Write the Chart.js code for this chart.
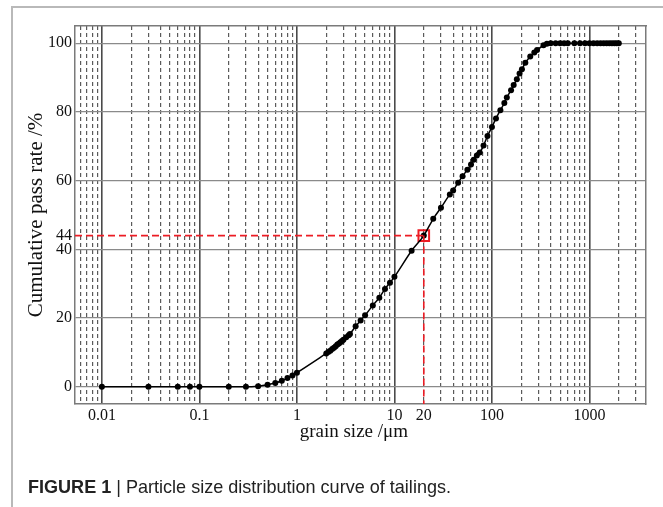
<!DOCTYPE html>
<html>
<head>
<meta charset="utf-8">
<script src="https://cdn.jsdelivr.net/npm/chart.js@4.4.1/dist/chart.umd.min.js"></script>
<style>
  html, body { margin: 0; padding: 0; background: #fff; }
  #wrap { position: relative; width: 663px; height: 507px; overflow: hidden; }
  #frame { position: absolute; left: 11px; top: 6px; width: 660px; height: 560px; border: 2px solid #b9b9b9; box-sizing: border-box; }
  #c { position: absolute; left: 0; top: 0; }
  #caption { position: absolute; left: 28px; top: 476px; font: 19px/22px "Liberation Sans", Arial, sans-serif; color: #222;
    white-space: nowrap; transform: scaleX(0.95); transform-origin: 0 0; }
  #caption b { font-weight: bold; }
</style>
</head>
<body>
<div id="wrap">
  <div id="frame"></div>
  <canvas id="c" width="663" height="507"></canvas>
  <div id="caption"><b>FIGURE 1</b> | Particle size distribution curve of tailings.</div>
</div>
<script>
// grain size (µm) and cumulative pass rate (%)
const grainSize = [0.01, 0.03, 0.06, 0.08, 0.1, 0.2, 0.3, 0.4, 0.5, 0.6, 0.7, 0.8, 0.9, 1.0,
  2.0, 2.1, 2.2, 2.3, 2.4, 2.5, 2.6, 2.7, 2.8, 2.9, 3.0, 3.2, 3.4, 3.5,
  4.0, 4.5, 5.0, 6.0, 7.0, 8.0, 9.0, 10, 15, 20, 25, 30, 37, 40, 45, 50, 56, 61, 65, 70, 75, 82, 90,
  100, 110, 122, 134, 142, 157, 167, 180, 192, 203, 220, 247, 272, 290, 338, 366,
  400, 450, 500, 550, 600, 700, 800, 900, 1000, 1100, 1200, 1300, 1400, 1500, 1600, 1700, 1800, 1900, 2000];
const passRate = [0, 0, 0, 0, 0, 0, 0, 0.2, 0.6, 1.1, 1.75, 2.6, 3.3, 4.1,
  9.7, 10.1, 10.5, 11.0, 11.4, 11.8, 12.3, 12.6, 13.0, 13.3, 13.7, 14.4, 15.0, 15.4,
  17.6, 19.3, 20.8, 23.7, 25.9, 28.5, 30.3, 32, 39.6, 44, 48.9, 52.1, 56, 57.1, 59.4, 61.3, 63.2, 64.7, 66.1, 67.3, 68.2, 70.2, 73,
  75.6, 78.1, 80.5, 82.6, 84.2, 86.3, 87.8, 89.5, 91.2, 92.4, 94.3, 96.1, 97.3, 98, 99.4, 99.8,
  100, 100, 100, 100, 100, 100, 100, 100, 100, 100, 100, 100, 100, 100, 100, 100, 100, 100, 100];

// marked point (d = 20 µm, 44 %)
const markSize = [20];
const markRate = [44];

const xTickLabels = [0.01, 0.1, 1, 10, 20, 100, 1000];
const yTicks = [0, 20, 40, 44, 60, 80, 100];
const xMin = 0.0053, xMax = 3800, yMin = -5, yMax = 105;

const serif = "'Liberation Serif', 'Times New Roman', serif";

// every 1..9 x 10^n line inside the range
const xGrid = [];
for (let e = -3; e <= 3; e++) {
  for (let m = 1; m <= 9; m++) {
    const v = +(m * Math.pow(10, e)).toPrecision(6);
    if (v >= xMin && v <= xMax) xGrid.push(v);
  }
}
const isDecade = (v) => Math.abs(Math.log10(v) - Math.round(Math.log10(v))) < 1e-9;
const hasLabel = (v) => xTickLabels.some((t) => Math.abs(t - v) / t < 1e-6);

const curve = grainSize.map((x, i) => ({ x, y: passRate[i] }));
const mark = markSize.map((x, i) => ({ x, y: markRate[i] }));
const red = "#ec1c24";

new Chart(document.getElementById("c"), {
  type: "line",
  data: {
    datasets: [
      { data: [{ x: xMin, y: markRate[0] }, mark[0]], borderColor: red, borderWidth: 1.6, borderDash: [7, 4], pointRadius: 0, tension: 0 },
      { data: [mark[0], { x: markSize[0], y: yMin }], borderColor: red, borderWidth: 1.6, borderDash: [7, 4], pointRadius: 0, tension: 0 },
      { data: curve, borderColor: "#000", borderWidth: 1.5, cubicInterpolationMode: "monotone",
        pointRadius: 3, pointBackgroundColor: "#000", pointBorderColor: "#000", pointBorderWidth: 0 },
      { data: mark, showLine: false, pointStyle: "rect", pointRadius: 7.5, pointBorderWidth: 2,
        pointBorderColor: red, pointBackgroundColor: "rgba(0,0,0,0)" },
    ],
  },
  options: {
    responsive: false,
    animation: false,
    events: [],
    layout: { padding: { left: 0, top: 26, right: 17, bottom: 62 } },
    plugins: { legend: { display: false }, tooltip: { enabled: false } },
    scales: {
      x: {
        type: "logarithmic", position: "bottom", min: xMin, max: xMax,
        afterBuildTicks: (s) => { s.ticks = xGrid.map((v) => ({ value: v, major: isDecade(v) })); },
        afterFit: (s) => { s.height = 41; },
        ticks: {
          autoSkip: false, maxRotation: 0, padding: 2, color: "#111",
          font: { family: serif, size: 16 },
          callback: (v) => (hasLabel(v) ? String(v) : ""),
        },
        grid: {
          drawTicks: false,
          color: (ctx) => (ctx.tick && isDecade(ctx.tick.value) ? "#4a4a4a" : "#5a5a5a"),
          lineWidth: (ctx) => (ctx.tick && isDecade(ctx.tick.value) ? 1.6 : 1.2),
        },
        border: {
          color: "#7a7a7a", width: 1.5,
          dash: (ctx) => (ctx.tick && !isDecade(ctx.tick.value) ? [4, 3] : []),
        },
        // trailing spaces nudge the centred title a little to the left, as in the figure
        title: { display: true, text: "grain size /\u03bcm\u2002\u2009", color: "#111", font: { family: serif, size: 19 }, padding: { top: 0, bottom: 2 } },
      },
      y: {
        type: "linear", position: "left", min: yMin, max: yMax,
        afterBuildTicks: (s) => { s.ticks = yTicks.map((v) => ({ value: v })); },
        afterFit: (s) => { s.width = 75; },
        ticks: { padding: 3, color: "#111", font: { family: serif, size: 16 } },
        grid: {
          drawTicks: false,
          color: (ctx) => (ctx.tick && ctx.tick.value === 44 ? "rgba(0,0,0,0)" : "#8a8a8a"),
          lineWidth: 1.2,
        },
        border: { color: "#7a7a7a", width: 1.5 },
        title: { display: true, text: "Cumulative pass rate /%", color: "#111", font: { family: serif, size: 21 }, padding: { top: 24, bottom: 0 } },
      },
      xTop: {
        type: "logarithmic", position: "top", min: xMin, max: xMax,
        afterFit: (s) => { s.height = 0; },
        ticks: { display: false }, grid: { drawOnChartArea: false, drawTicks: false },
        border: { color: "#7a7a7a", width: 1.5 },
      },
      yRight: {
        type: "linear", position: "right", min: yMin, max: yMax,
        afterFit: (s) => { s.width = 0; },
        ticks: { display: false }, grid: { drawOnChartArea: false, drawTicks: false },
        border: { color: "#7a7a7a", width: 1.5 },
      },
    },
  },
});
</script>
</body>
</html>
